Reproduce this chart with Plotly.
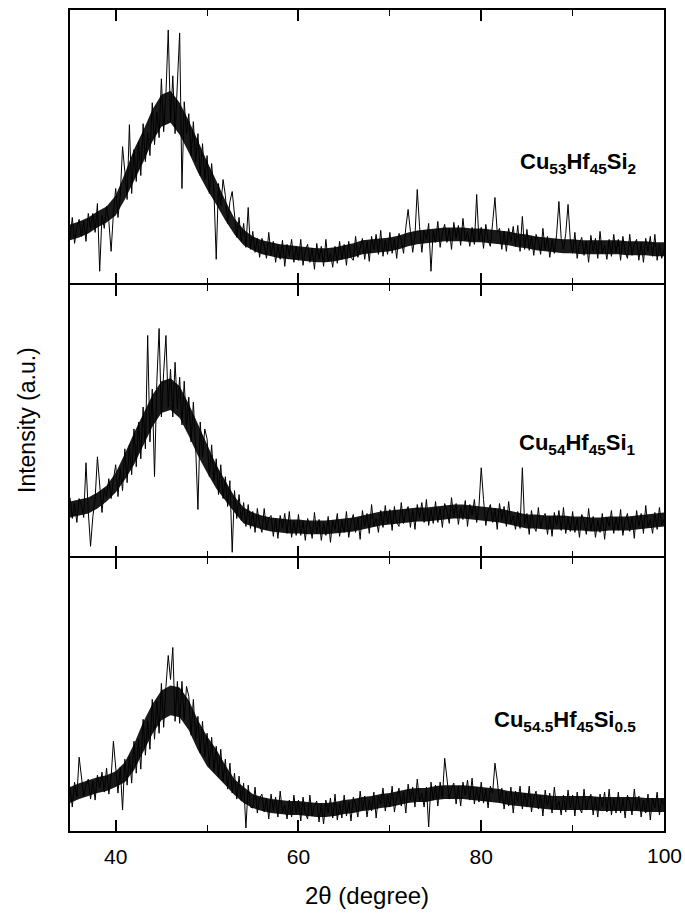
import plotly.graph_objects as go

# ---------------- data ----------------
TWO_THETA_START = 35.0
TWO_THETA_STEP = 0.25      # step of the noisy traces
ENVELOPE_STEP = 1.0        # step of the dense-band envelopes

# Cu53Hf45Si2 (top panel), intensity a.u., 35.00 .. 100.00 every 0.25 deg
intensity_si2 = [
    44, 66, 40, 56, 64, 47, 62, 42, 70, 55, 70, 51, 80, 12, 68, 55, 77, 62, 32, 70,
    95, 66, 88, 137, 112, 84, 159, 90, 134, 102, 142, 108, 160, 122, 151, 128, 181, 139, 172, 146,
    205, 152, 190, 254, 162, 208, 150, 196, 251, 95, 182, 150, 170, 128, 162, 122, 150, 108, 140, 104,
    128, 90, 120, 92, 24, 100, 78, 104, 88, 60, 82, 92, 72, 46, 66, 42, 60, 36, 76, 34,
    52, 31, 45, 26, 45, 38, 25, 51, 28, 42, 21, 38, 24, 43, 17, 39, 28, 44, 21, 37,
    23, 44, 18, 33, 39, 21, 35, 14, 40, 24, 37, 17, 44, 22, 30, 16, 37, 20, 42, 24,
    39, 18, 42, 26, 23, 47, 26, 37, 45, 24, 42, 22, 47, 34, 49, 29, 53, 27, 43, 29,
    51, 30, 44, 25, 50, 43, 30, 56, 74, 52, 31, 48, 94, 57, 31, 53, 44, 60, 12, 53,
    41, 62, 36, 51, 59, 41, 55, 34, 61, 45, 58, 38, 65, 43, 51, 37, 56, 39, 89, 43,
    56, 35, 59, 43, 37, 61, 86, 51, 55, 34, 52, 32, 55, 42, 57, 37, 58, 32, 67, 34,
    54, 33, 47, 28, 49, 42, 29, 55, 33, 47, 26, 43, 30, 49, 82, 45, 34, 50, 79, 43,
    30, 51, 25, 40, 46, 28, 42, 21, 48, 32, 45, 25, 52, 30, 38, 24, 44, 27, 49, 31,
    44, 23, 47, 31, 25, 49, 28, 39, 44, 23, 41, 21, 45, 32, 47, 27, 49, 23, 39, 25,
    34,
]
# dense part of the noise band (35 .. 100 every 1 deg)
upper_si2 = [
    59, 62, 66, 72, 77, 88, 110, 134, 153, 174, 189, 193, 181, 163, 143, 122, 103, 83, 65, 54,
    47, 43, 41, 39, 38, 37, 36, 35, 35, 36, 38, 40, 43, 44, 45, 46, 48, 51, 53, 54,
    55, 56, 56, 56, 55, 55, 54, 53, 52, 50, 49, 47, 46, 45, 44, 44, 43, 43, 43, 43,
    43, 42, 42, 42, 41, 41,
]
lower_si2 = [
    43, 46, 50, 56, 61, 68, 84, 102, 121, 142, 157, 161, 149, 131, 111, 94, 79, 63, 49, 38,
    33, 29, 27, 25, 24, 23, 22, 21, 21, 22, 24, 26, 29, 30, 31, 32, 34, 37, 39, 40,
    41, 42, 42, 42, 41, 41, 40, 39, 38, 36, 35, 33, 32, 31, 30, 30, 29, 29, 29, 29,
    29, 28, 28, 28, 27, 27,
]

# Cu54Hf45Si1 (middle panel)
intensity_si1 = [
    59, 38, 53, 34, 58, 51, 39, 94, 45, 10, 40, 58, 100, 68, 44, 68, 60, 78, 58, 77,
    92, 60, 88, 66, 108, 74, 112, 82, 128, 90, 135, 98, 150, 108, 222, 115, 168, 80, 175, 229,
    140, 185, 222, 150, 188, 140, 195, 148, 180, 132, 176, 128, 160, 115, 155, 110, 47, 135, 100, 128,
    118, 80, 112, 76, 98, 62, 92, 58, 80, 50, 76, 4, 66, 38, 62, 36, 54, 30, 52, 28,
    45, 24, 48, 32, 24, 48, 27, 38, 41, 20, 38, 18, 41, 28, 43, 23, 45, 19, 35, 21,
    42, 21, 35, 16, 38, 31, 18, 44, 23, 37, 16, 33, 21, 40, 14, 36, 27, 43, 20, 36,
    24, 45, 19, 34, 42, 24, 38, 17, 46, 30, 43, 23, 52, 30, 38, 24, 46, 29, 51, 33,
    47, 26, 50, 34, 30, 54, 33, 44, 50, 29, 47, 27, 52, 39, 54, 34, 57, 31, 47, 33,
    55, 34, 48, 29, 53, 46, 33, 59, 39, 53, 32, 49, 37, 56, 30, 52, 41, 57, 34, 50,
    89, 57, 31, 46, 52, 34, 48, 27, 53, 37, 50, 30, 55, 33, 41, 27, 45, 28, 89, 32,
    43, 22, 46, 30, 25, 49, 28, 39, 43, 22, 40, 20, 44, 31, 46, 26, 49, 23, 39, 25,
    45, 24, 38, 19, 42, 35, 22, 48, 26, 40, 19, 36, 24, 43, 17, 39, 30, 46, 23, 39,
    26, 47, 21, 36, 43, 25, 39, 18, 46, 30, 43, 23, 51, 29, 37, 23, 44, 27, 49, 31,
    37,
]
upper_si1 = [
    55, 57, 59, 64, 71, 84, 103, 124, 143, 162, 176, 179, 171, 153, 133, 112, 92, 76, 60, 49,
    44, 41, 39, 38, 37, 37, 36, 36, 36, 37, 38, 39, 41, 43, 45, 46, 47, 48, 49, 49,
    50, 51, 52, 52, 51, 50, 49, 48, 46, 44, 42, 42, 41, 41, 41, 40, 40, 39, 39, 40,
    40, 40, 41, 42, 43, 44,
]
lower_si1 = [
    39, 41, 43, 48, 55, 64, 77, 92, 111, 130, 144, 147, 139, 121, 101, 84, 68, 56, 44, 33,
    30, 27, 25, 24, 23, 23, 22, 22, 22, 23, 24, 25, 27, 29, 31, 32, 33, 34, 35, 35,
    36, 37, 38, 38, 37, 36, 35, 34, 32, 30, 28, 28, 27, 27, 27, 26, 26, 25, 25, 26,
    26, 26, 27, 28, 29, 30,
]

# Cu54.5Hf45Si0.5 (bottom panel)
intensity_si05 = [
    44, 24, 49, 34, 74, 55, 35, 46, 52, 32, 50, 31, 56, 43, 59, 39, 63, 37, 54, 90,
    66, 38, 64, 21, 72, 46, 75, 48, 90, 58, 92, 62, 112, 76, 110, 82, 132, 92, 130, 98,
    148, 104, 145, 176, 152, 184, 110, 150, 108, 150, 112, 145, 135, 96, 132, 92, 115, 78, 110, 74,
    98, 64, 94, 60, 85, 54, 82, 50, 72, 42, 68, 38, 58, 32, 55, 30, 48, 3, 46, 24,
    23, 44, 18, 33, 37, 19, 33, 12, 37, 21, 34, 14, 40, 18, 26, 12, 31, 14, 36, 18,
    31, 10, 34, 18, 12, 36, 15, 26, 30, 9, 27, 7, 31, 18, 33, 13, 37, 11, 27, 13,
    36, 15, 29, 10, 34, 27, 14, 40, 21, 35, 14, 31, 20, 39, 13, 35, 27, 43, 20, 36,
    24, 45, 19, 34, 43, 25, 39, 18, 47, 31, 44, 24, 52, 30, 38, 24, 44, 4, 49, 31,
    46, 25, 49, 33, 73, 53, 32, 43, 48, 27, 45, 25, 49, 36, 51, 31, 53, 27, 43, 29,
    49, 28, 42, 23, 45, 38, 68, 51, 29, 43, 22, 39, 25, 44, 18, 40, 29, 45, 22, 38,
    24, 45, 19, 34, 40, 22, 36, 15, 41, 25, 38, 18, 44, 22, 30, 16, 36, 19, 41, 23,
    36, 15, 39, 23, 18, 42, 21, 32, 37, 16, 34, 14, 37, 24, 39, 19, 42, 16, 32, 18,
    39, 18, 32, 13, 36, 29, 16, 42, 21, 35, 14, 31, 18, 37, 11, 33, 23, 39, 16, 32,
    26,
]
upper_si05 = [
    44, 48, 51, 54, 56, 60, 69, 87, 109, 127, 141, 146, 144, 131, 111, 95, 82, 66, 52, 44,
    37, 34, 32, 31, 30, 30, 29, 28, 28, 29, 31, 32, 34, 35, 37, 38, 40, 42, 43, 43,
    45, 46, 46, 46, 45, 44, 43, 42, 40, 39, 38, 37, 36, 35, 35, 35, 35, 35, 34, 34,
    34, 34, 34, 33, 33, 33,
]
lower_si05 = [
    28, 32, 35, 38, 40, 44, 49, 61, 79, 97, 111, 116, 114, 101, 81, 65, 56, 46, 36, 28,
    23, 20, 18, 17, 16, 16, 15, 14, 14, 15, 17, 18, 20, 21, 23, 24, 26, 28, 29, 29,
    31, 32, 32, 32, 31, 30, 29, 28, 26, 25, 24, 23, 22, 21, 21, 21, 21, 21, 20, 20,
    20, 20, 20, 19, 19, 19,
]

sample_labels = [
    "<b>Cu<sub>53</sub>Hf<sub>45</sub>Si<sub>2</sub></b>",
    "<b>Cu<sub>54</sub>Hf<sub>45</sub>Si<sub>1</sub></b>",
    "<b>Cu<sub>54.5</sub>Hf<sub>45</sub>Si<sub>0.5</sub></b>",
]
x_tick_values = [40, 60, 80, 100]
x_tick_text = ["40", "60", "80", ""]   # the last label is placed separately below
x_last_tick_label = "100"
x_minor_ticks = [50, 70, 90]
x_title = "2θ (degree)"
y_title = "Intensity (a.u.)"

# ---------------- layout helpers ----------------
W, H = 685, 913
FONT = "Liberation Sans, Arial, sans-serif"
LW = 1.5
X_LEFT, X_RIGHT = 70, 664
# pixel rows of each panel's plotting area (top, bottom); shared borders coincide
panels_px = [(10, 284 - LW / 2), (284 + LW / 2, 557 - LW / 2), (557 + LW / 2, 831)]


def px_x(p):
    return p / W


def px_y(p):
    return 1 - p / H


series = [intensity_si2, intensity_si1, intensity_si05]
uppers = [upper_si2, upper_si1, upper_si05]
lowers = [lower_si2, lower_si1, lower_si05]
panel_heights = [274, 273, 274]

fig = go.Figure()
layout_axes = {}
for i, (vals, up, lo, (top, bot)) in enumerate(zip(series, uppers, lowers, panels_px)):
    n = i + 1
    xa = "x" if n == 1 else f"x{n}"
    ya = "y" if n == 1 else f"y{n}"
    xe = [TWO_THETA_START + k * ENVELOPE_STEP for k in range(len(up))]
    fig.add_trace(go.Scatter(
        x=xe + xe[::-1], y=up + lo[::-1], mode="lines", fill="toself",
        fillcolor="rgba(0,0,0,0.9)", line=dict(color="rgba(0,0,0,0)", width=0),
        xaxis=xa, yaxis=ya, showlegend=False, hoverinfo="skip",
    ))
    xs = [TWO_THETA_START + k * TWO_THETA_STEP for k in range(len(vals))]
    fig.add_trace(go.Scatter(
        x=xs, y=vals, mode="lines",
        line=dict(color="black", width=1),
        xaxis=xa, yaxis=ya, showlegend=False, hoverinfo="skip",
    ))
    is_bottom = (i == len(series) - 1)
    layout_axes["xaxis" if n == 1 else f"xaxis{n}"] = dict(
        domain=[px_x(X_LEFT), px_x(X_RIGHT)],
        anchor=ya,
        range=[35, 100],
        showline=True, linecolor="black", linewidth=LW, mirror="ticks",
        ticks="inside", ticklen=11, tickwidth=1.5, tickcolor="black",
        tickvals=x_tick_values, ticktext=x_tick_text,
        minor=dict(tickvals=x_minor_ticks, ticks="inside", ticklen=6,
                   tickwidth=1.3, tickcolor="black", showgrid=False),
        showticklabels=is_bottom,
        ticklabelstandoff=6,
        tickfont=dict(family=FONT, size=21, color="black"),
        showgrid=False, zeroline=False,
    )
    layout_axes["yaxis" if n == 1 else f"yaxis{n}"] = dict(
        domain=[px_y(bot), px_y(top)],
        anchor=xa,
        range=[0, panel_heights[i]],
        showline=True, linecolor="black", linewidth=LW, mirror=True,
        ticks="", showticklabels=False,
        showgrid=False, zeroline=False,
    )

label_y_px = [163, 444, 721]
annotations = []
for text, ly in zip(sample_labels, label_y_px):
    annotations.append(dict(
        x=px_x(638), y=px_y(ly), xref="paper", yref="paper",
        xanchor="right", yanchor="middle", showarrow=False,
        text=text, font=dict(family=FONT, size=22, color="black"),
    ))
# label of the last x tick (100), at the right border of the bottom panel
annotations.append(dict(
    x=x_tick_values[-1], y=px_y(855), xref="x3", yref="paper",
    xanchor="center", yanchor="middle", showarrow=False,
    text=x_last_tick_label, font=dict(family=FONT, size=21, color="black"),
))
annotations.append(dict(
    x=px_x(367), y=px_y(895), xref="paper", yref="paper",
    xanchor="center", yanchor="middle", showarrow=False,
    text=x_title, font=dict(family=FONT, size=24, color="black"),
))
annotations.append(dict(
    x=px_x(27), y=px_y(420), xref="paper", yref="paper",
    xanchor="center", yanchor="middle", showarrow=False, textangle=-90,
    text=y_title, font=dict(family=FONT, size=23, color="black"),
))

fig.update_layout(
    width=W, height=H, autosize=False,
    margin=dict(l=0, r=0, t=0, b=0, pad=0),
    paper_bgcolor="white", plot_bgcolor="white",
    annotations=annotations,
    **layout_axes,
)

fig.write_html("out.html", config={"responsive": False, "displayModeBar": False})
